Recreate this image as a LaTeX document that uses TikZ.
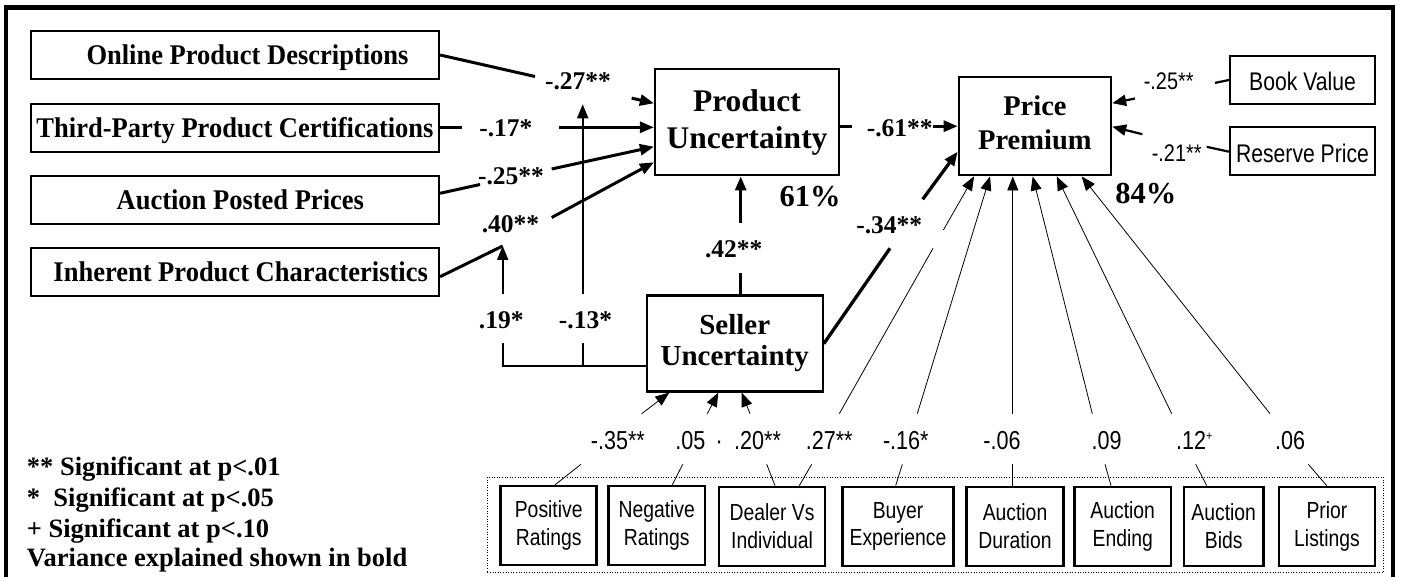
\documentclass[tikz,border=0pt]{standalone}
\usepackage{fontspec}
\setmainfont{Liberation Serif}
\newfontfamily\narrowsans[FakeStretch=0.83]{Liberation Sans}
\newfontfamily\tallserif[FakeStretch=0.93]{Liberation Serif}
\usetikzlibrary{arrows.meta}

\begin{document}
\begin{tikzpicture}[x=1pt, y=-1pt,
  >={Triangle[length=14pt,width=11pt]},
  every node/.style={inner sep=0pt},
  box/.style={draw, line width=2.2pt, align=center},
  srcbox/.style={box, minimum width=408pt, minimum height=48pt, text height=19.5pt, text depth=0pt,
    font=\tallserif\fontsize{28.5}{30}\selectfont\bfseries},
  sidebox/.style={box, minimum width=145pt, minimum height=48pt, text height=22pt, text depth=0pt,
    font=\narrowsans\fontsize{25.5}{30}\selectfont},
  ctrlbox/.style={box, line width=2.6pt, minimum height=79pt,
    font=\narrowsans\fontsize{23.3}{27.7}\selectfont},
  coef/.style={anchor=base, font=\fontsize{25.5}{30}\selectfont\bfseries},
  coefs/.style={anchor=base, font=\narrowsans\fontsize{26}{30}\selectfont},
  coefr/.style={anchor=base, font=\narrowsans\fontsize{24}{30}\selectfont},
  varexp/.style={anchor=base, font=\fontsize{30.5}{34}\selectfont\bfseries},
  legendline/.style={anchor=base west, font=\fontsize{26.5}{30}\selectfont\bfseries},
  heavy/.style={line width=3pt},
  medium/.style={line width=2.2pt},
  moder/.style={line width=2pt},
  thinline/.style={line width=0.8pt},
]
\useasboundingbox (0,0) rectangle (1403,577);

% outer frame
\draw[line width=4.5pt] (6,595) -- (6,7.5) -- (1393,7.5) -- (1393,595);

% antecedents of product uncertainty
\node[srcbox] (online)   at (235,55)    {\hspace*{25pt}Online Product Descriptions};
\node[srcbox] (third)    at (235,127.7) {Third-Party Product Certifications};
\node[srcbox] (posted)   at (235,199.7) {\hspace*{10.6pt}Auction Posted Prices};
\node[srcbox] (inherent) at (235,271.7) {\hspace*{11.4pt}Inherent Product Characteristics};

% core constructs
\node[box, minimum width=184pt, minimum height=106.3pt, font=\fontsize{31.5}{36.7}\selectfont\bfseries]
  (pu) at (747,122.2) {Product\\Uncertainty};
\node[box, minimum width=152.3pt, minimum height=98.3pt, text depth=8pt, font=\fontsize{28.5}{34}\selectfont\bfseries]
  (pp) at (1034.9,126.2) {Price\\Premium};
\node[box, minimum width=176pt, minimum height=96pt, font=\fontsize{29}{31}\selectfont\bfseries]
  (su) at (734.7,343.5) {Seller\\Uncertainty};

% price controls
\node[sidebox] (book)    at (1302.5,79.7)  {Book Value};
\node[sidebox] (reserve) at (1302.5,151.3) {Reserve Price};

% control variables
\node[draw, line width=1pt, dash pattern=on 1pt off 1.6pt, minimum width=896pt, minimum height=95.7pt]
  (ctrlgroup) at (935.3,524.85) {};
\node[ctrlbox, minimum width=96pt]    (pos)    at (548.7,525.6)  {Positive\\Ratings};
\node[ctrlbox, minimum width=96.7pt]  (neg)    at (656.7,525.6)  {Negative\\Ratings};
\node[ctrlbox, minimum width=106pt]   (dealer) at (772,526.4)    {Dealer Vs\\Individual};
\node[ctrlbox, minimum width=110.6pt] (buyer)  at (898,526.4)    {Buyer\\Experience};
\node[ctrlbox, minimum width=96.6pt]  (dur)    at (1015,526.4)   {Auction\\Duration};
\node[ctrlbox, minimum width=96.7pt]  (ending) at (1122.7,526.4) {Auction\\Ending};
\node[ctrlbox, minimum width=79.3pt]  (bids)   at (1223.7,526.4) {Auction\\Bids};
\node[ctrlbox, minimum width=96pt]    (prior)  at (1327,526.4)   {Prior\\Listings};

% gap ends of the labelled paths
\coordinate (ga1) at (535,76.5);    \coordinate (ga2) at (631.7,98.1);
\coordinate (gb1) at (462.3,127.3); \coordinate (gb2) at (559.3,127.3);
\coordinate (gc1) at (480,184.5);   \coordinate (gc2) at (551.7,169);
\coordinate (j40) at (502.7,246);   \coordinate (gd2) at (551.7,217.5);
\coordinate (ge1) at (851.7,126.2); \coordinate (ge2) at (933,126.2);
\coordinate (gf1) at (740.7,272.7); \coordinate (gf2) at (740.7,223.3);
\coordinate (gg1) at (890,248.3);   \coordinate (gg2) at (922.7,199.3);
\coordinate (gh1) at (1215,82.9);   \coordinate (gh2) at (1135,98.5);
\coordinate (gi1) at (1206.7,146.8);\coordinate (gi2) at (1142.3,134.2);
\coordinate (m19c) at (502.7,366);
\coordinate (gj1) at (502.7,343);   \coordinate (gj2) at (502.7,293.7);
\coordinate (m13b) at (582.7,367);
\coordinate (gk1) at (582.7,343);   \coordinate (gk2) at (582.7,293.7);
\coordinate (m13t) at (582.7,104.3);

% main paths
\draw[heavy] (online.east) -- (ga1);
\draw[heavy,->] (ga2) -- (pu.west |- 0,103.3);
\draw[heavy] (third.east |- gb1) -- (gb1);
\draw[heavy,->] (gb2) -- (pu.west |- gb2);
\draw[heavy] (posted.east |- 0,193.3) -- (gc1);
\draw[heavy,->] (gc2) -- (pu.west |- 0,146.7);
\draw[heavy] (inherent.east |- 0,276.7) -- (j40);
\draw[heavy,->] (gd2) -- (pu.west |- 0,162.3);
\draw[heavy] (pu.east |- ge1) -- (ge1);
\draw[heavy,->] (ge2) -- (pp.west |- ge2);
\draw[heavy] (su.north -| gf1) -- (gf1);
\draw[heavy,->] (gf2) -- (pu.south -| gf2);
\draw[line width=3.3pt] (su.east |- 0,343.7) -- (gg1);
\draw[line width=3.3pt,->] (gg2) -- (pp.west |- 0,151.7);
\draw[medium] (book.west |- 0,80) -- (gh1);
\draw[medium,->] (gh2) -- (pp.east |- 0,103.2);
\draw[medium] (reserve.west |- 0,151.7) -- (gi1);
\draw[medium,->] (gi2) -- (pp.east |- 0,126.7);

% moderating paths from seller uncertainty
\draw[moder] (su.west |- m19c) -- (m19c) -- (gj1);
\draw[moder,->] (gj2) -- (j40);
\draw[moder] (m13b) -- (gk1);
\draw[moder,->] (gk2) -- (m13t);

% control paths: label ends
\coordinate (ua) at (641.7,413.7); \coordinate (ub) at (707.3,413.7);
\coordinate (uc) at (750,413.7);   \coordinate (ud) at (839.3,413.7);
\coordinate (ud1) at (933,248.3);  \coordinate (ud2) at (943.4,230);
\coordinate (ue) at (917.3,413.7); \coordinate (uf) at (1012.8,413.7);
\coordinate (ug) at (1092.3,413.7);\coordinate (uh) at (1171.7,413.7);
\coordinate (ui) at (1270,413.7);
\coordinate (la) at (581,464.3);   \coordinate (lb) at (682.7,464.3);
\coordinate (lc) at (766.7,464.3); \coordinate (ld) at (811.7,464.3);
\coordinate (le) at (902.3,464.3); \coordinate (lf) at (1012.8,464.3);
\coordinate (lg) at (1105,464.3);  \coordinate (lh) at (1195.7,464.3);
\coordinate (li) at (1308.3,464.3);

\draw[thinline,->] (ua) -- (su.south -| 669.3,0);
\draw[thinline,->] (ub) -- (su.south -| 718.3,0);
\draw[thinline,->] (uc) -- (su.south -| 741.7,0);
\draw[thinline] (ud) -- (ud1);
\draw[thinline,->] (ud2) -- (pp.south -| 974,0);
\draw[thinline,->] (ue) -- (pp.south -| 990,0);
\draw[thinline,->] (uf) -- (pp.south -| uf);
\draw[thinline,->] (ug) -- (pp.south -| 1032.7,0);
\draw[thinline,->] (uh) -- (pp.south -| 1056.7,0);
\draw[thinline,->] (ui) -- (pp.south -| 1081.7,0);

\draw[thinline] (pos.north -| 555,0) -- (la);
\draw[thinline] (neg.north -| 672.3,0) -- (lb);
\draw[thinline] (dealer.north -| 775,0) -- (lc);
\draw[thinline] (dealer.north -| 799.3,0) -- (ld);
\draw[thinline] (buyer.north -| 895.7,0) -- (le);
\draw[thinline] (dur.north -| lf) -- (lf);
\draw[thinline] (ending.north -| 1111,0) -- (lg);
\draw[thinline] (bids.north -| 1206.7,0) -- (lh);
\draw[thinline] (prior.north -| 1326.7,0) -- (li);

% path coefficients
\node[coef] (c27) at (578,90)      {-.27**};
\node[coef] (c17) at (505.9,137)   {-.17*};
\node[coef] (c25) at (511,185)     {-.25**};
\node[coef] (c40) at (510.5,232.3) {.40**};
\node[coef] (c19) at (501.3,328.7) {.19*};
\node[coef] (c13) at (585.5,328.7) {-.13*};
\node[coef] (c42) at (733.7,257.3) {.42**};
\node[coef] (c61) at (899.7,136.7) {-.61**};
\node[coef] (c34) at (889.2,233.5) {-.34**};
\node[varexp] (r2pu) at (810.2,206.7) {61\%};
\node[varexp] (r2pp) at (1145.9,204) {84\%};
\node[coefr] (cbook) at (1168.7,90)  {-.25**};
\node[coefr] (cres)  at (1176.7,161.7) {-.21**};

\node[coefs] (cpos)   at (617.9,449.7)  {-.35**};
\node[coefs] (cneg)   at (690.4,449.7)  {.05};
\node[coefs] (cdot)   at (719.3,449.7)  {·};
\node[coefs] (cdeal)  at (757.5,449.7)  {.20**};
\node[coefs] (cdealp) at (829.2,449.7)  {.27**};
\node[coefs] (cbuy)   at (905.8,449.7)  {-.16*};
\node[coefs] (cdur)   at (1002,449.7)   {-.06};
\node[coefs] (cend)   at (1106.5,449.7) {.09};
\node[coefs] (cbids)  at (1194.2,449.7) {.12\raisebox{9pt}{\fontsize{13}{13}\selectfont +}};
\node[coefs] (cprior) at (1290,449.7)   {.06};

% legend
\node[legendline] (leg1) at (26.7,475.3) {** Significant at p<.01};
\node[legendline] (leg2) at (26.7,506)   {*\ \ Significant at p<.05};
\node[legendline] (leg3) at (26.7,537)   {+ Significant at p<.10};
\node[legendline] (leg4) at (26.7,566)   {Variance explained shown in bold};
\end{tikzpicture}
\end{document}
